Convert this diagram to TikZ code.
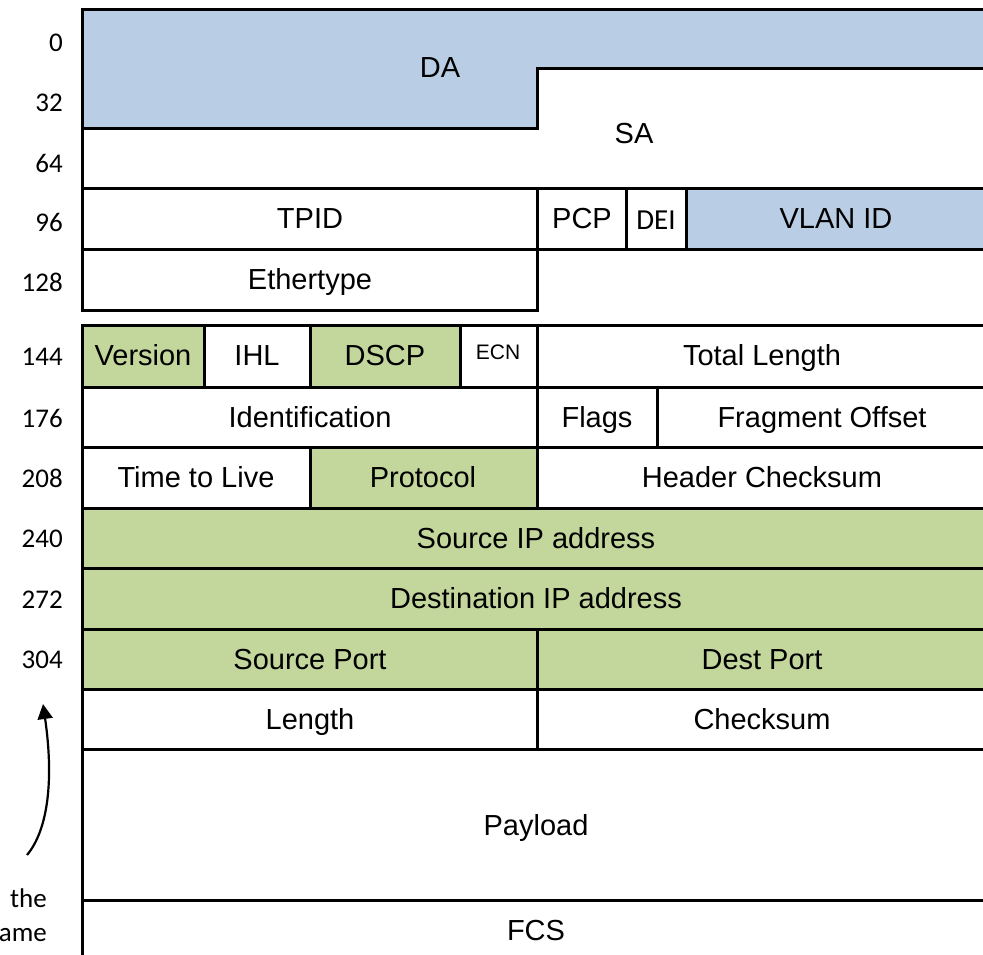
\documentclass[tikz,border=0pt]{standalone}
\usepackage{fontspec}
\usetikzlibrary{arrows.meta}
\newfontfamily\fieldfont{Liberation Sans}
\newfontfamily\bitfont{Carlito}
\definecolor{ethblue}{HTML}{B9CDE5}
\definecolor{ipgreen}{HTML}{C3D69B}
\tikzset{field/.style={draw=black,line width=3pt},
  txt/.style={font=\fieldfont\fontsize{29}{34}\selectfont,text height=21pt,text depth=0pt,inner sep=0pt},
  small/.style={font=\fieldfont\fontsize{21}{25}\selectfont,text height=15pt,text depth=0pt,inner sep=0pt},
  bit/.style={font=\bitfont\fontsize{27}{32}\selectfont,anchor=east,inner sep=0pt}}

\begin{document}
\begin{tikzpicture}[x=1pt,y=-1pt]
\useasboundingbox(0,0)rectangle(983,954);
\clip(0,0)rectangle(983,954);
% Ethernet / VLAN header
\draw[field,fill=ethblue](82,9)--(990,9)--(990,68)--(537,68)--(537,128)--(82,128)--cycle;
\draw[field](82,128)--(537,128)--(537,68)--(990,68)--(990,188)--(82,188)--cycle;
\node[txt](da)at(440,67){DA};\node[txt](sa)at(634,133){SA};
\draw[field](82,188)rectangle(537,249);\node[txt](tpid)at(310,218){TPID};
\draw[field](537,188)rectangle(626,249);\node[txt](pcp)at(582,218){PCP};
\draw[field](626,188)rectangle(686,249);\node[font=\bitfont\fontsize{29}{34}\selectfont,inner sep=0pt](dei)at(656,220){DEI};
\draw[field,fill=ethblue](686,188)rectangle(990,249);\node[txt](vlan)at(836,218){VLAN ID};
\draw[field](82,249)rectangle(537,310);\node[txt](ethertype)at(310,279){Ethertype};
% IP header
\draw[field,fill=ipgreen](82,325)rectangle(204,387);\node[txt](version)at(143,355){Version};
\draw[field](204,325)rectangle(310,387);\node[txt](ihl)at(257,355){IHL};
\draw[field,fill=ipgreen](310,325)rectangle(460,387);\node[txt](dscp)at(385,355){DSCP};
\draw[field](460,325)rectangle(537,387);\node[small](ecn)at(498,352){ECN};
\draw[field](537,325)rectangle(990,387);\node[txt](totlen)at(762,355){Total Length};
\draw[field](82,387)rectangle(537,447);\node[txt](ident)at(310,417){Identification};
\draw[field](537,387)rectangle(657,447);\node[txt](flags)at(597,417){Flags};
\draw[field](657,387)rectangle(990,447);\node[txt](fragoff)at(822,417){Fragment Offset};
\draw[field](82,447)rectangle(310,508);\node[txt](ttl)at(196,477){Time to Live};
\draw[field,fill=ipgreen](310,447)rectangle(537,508);\node[txt](proto)at(423,477){Protocol};
\draw[field](537,447)rectangle(990,508);\node[txt](hdrsum)at(762,477){Header Checksum};
\draw[field,fill=ipgreen](82,508)rectangle(990,568);\node[txt](srcip)at(536,538){Source IP address};
\draw[field,fill=ipgreen](82,568)rectangle(990,629);\node[txt](dstip)at(536,598){Destination IP address};
% UDP header
\draw[field,fill=ipgreen](82,629)rectangle(537,689);\node[txt](srcport)at(310,659){Source Port};
\draw[field,fill=ipgreen](537,629)rectangle(990,689);\node[txt](dstport)at(762,659){Dest Port};
\draw[field](82,689)rectangle(537,749);\node[txt](length)at(310,719){Length};
\draw[field](537,689)rectangle(990,749);\node[txt](checksum)at(762,719){Checksum};
\draw[field](82,749)rectangle(990,900);\node[txt](payload)at(536,825){Payload};
\draw[field](82,900)rectangle(990,970);\node[txt](fcs)at(536,930){FCS};
% bit offsets
\foreach\off/\yy in{0/43,32/103,64/163,96/222,128/282,144/357,176/418,208/478,240/539,272/600,304/660}
  \node[bit](bit\off)at(63,\yy){\off};
\node[bit](capa)at(47,898){the};\node[bit](capb)at(47,935){ame};
\coordinate(arrowtail)at(27,855);\coordinate(arrowtip)at(43,704);
\draw[line width=2.2pt,-{Triangle[length=15pt,width=15pt]}](arrowtail)..controls(48,830)and(54,780)..(arrowtip);
\end{tikzpicture}
\end{document}
